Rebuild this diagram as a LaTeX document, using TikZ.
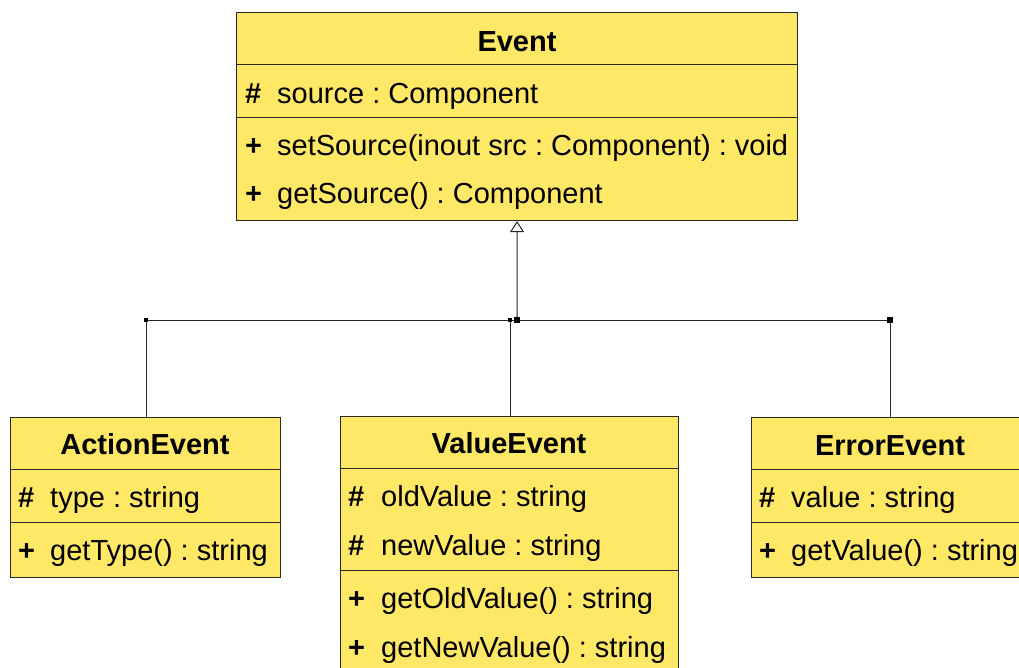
\documentclass[tikz,border=0pt]{standalone}
\usepackage{fontspec}
\setmainfont{Liberation Sans}
\usetikzlibrary{arrows.meta}
\definecolor{classfill}{RGB}{255,232,102}
\definecolor{classline}{RGB}{40,40,40}
\tikzset{
  classbox/.style={draw=classline, fill=classfill, line width=1.1pt, inner sep=0pt, anchor=north west},
  divider/.style={draw=classline, line width=1pt},
  title/.style={font=\fontsize{29}{33}\selectfont\bfseries, inner sep=0pt, anchor=base},
  member/.style={font=\fontsize{29}{33}\selectfont, inner sep=0pt, anchor=base west},
  vis/.style={font=\fontsize{29}{33}\selectfont\bfseries, inner sep=0pt, anchor=base west},
  link/.style={draw=black!85, line width=1pt},
  joint/.style={fill=black, inner sep=0pt, minimum size=#1, draw=none},
  joint/.default=5pt
}
\frenchspacing
\begin{document}
\begin{tikzpicture}[x=1pt,y=-1pt]
\useasboundingbox (0,0) rectangle (1019,668);
\clip (0,0) rectangle (1019,668);

% Event
\node[classbox, minimum width=561pt, minimum height=208pt] (event) at (236,12) {};
\draw[divider] (236,65) -- (797,65);
\draw[divider] (236,117.5) -- (797,117.5);
\node[title] (eventT) at (517,52) {Event};
\node[vis] (ev1) at (245,104) {\#};
\node[member] (ev1t) at (277,104) {source : Component};
\node[vis] (ev2) at (245,156) {+};
\node[member] (ev2t) at (277,156) {setSource(inout src : Component) : void};
\node[vis] (ev3) at (245,204) {+};
\node[member] (ev3t) at (277,204) {getSource() : Component};

% ActionEvent
\node[classbox, minimum width=270pt, minimum height=160.5pt] (action) at (10,416.5) {};
\draw[divider] (10,469.5) -- (280,469.5);
\draw[divider] (10,522) -- (280,522);
\node[title] (actionT) at (145,454) {ActionEvent};
\node[vis] (ac1) at (18,507) {\#};
\node[member] (ac1t) at (50,507) {type : string};
\node[vis] (ac2) at (18,560) {+};
\node[member] (ac2t) at (50,560) {getType() : string};

% ValueEvent
\node[classbox, minimum width=338pt, minimum height=270pt] (value) at (340,415.5) {};
\draw[divider] (340,468) -- (678,468);
\draw[divider] (340,570.5) -- (678,570.5);
\node[title] (valueT) at (509,453) {ValueEvent};
\node[vis] (va1) at (348,506) {\#};
\node[member] (va1t) at (381,506) {oldValue : string};
\node[vis] (va2) at (348,555) {\#};
\node[member] (va2t) at (381,555) {newValue : string};
\node[vis] (va3) at (348,608) {+};
\node[member] (va3t) at (381,608) {getOldValue() : string};
\node[vis] (va4) at (348,657) {+};
\node[member] (va4t) at (381,657) {getNewValue() : string};

% ErrorEvent
\node[classbox, minimum width=300pt, minimum height=160.5pt] (error) at (751,416.5) {};
\draw[divider] (751,469.5) -- (1060,469.5);
\draw[divider] (751,522) -- (1060,522);
\node[title] (errorT) at (890,455) {ErrorEvent};
\node[vis] (er1) at (759,507) {\#};
\node[member] (er1t) at (791,507) {value : string};
\node[vis] (er2) at (759,560) {+};
\node[member] (er2t) at (791,560) {getValue() : string};

% generalization tree
\coordinate (hub) at (517,320);
\coordinate (jA) at (146,320);
\coordinate (jV) at (510,320);
\coordinate (jE) at (890,320);
\draw[link] (jA) -- (jE);
\draw[link, -{Triangle[open, width=14pt, length=11pt, line width=1pt]}] (hub) -- (event.south);
\draw[link] (jA) -- (jA |- action.north);
\draw[link] (jV) -- (jV |- value.north);
\draw[link] (jE) -- (jE |- error.north);
\node[joint=6pt] (dH) at (hub) {};
\node[joint=4pt] (dA) at (jA) {};
\node[joint=4pt] (dV) at (jV) {};
\node[joint=6pt] (dE) at (jE) {};
\end{tikzpicture}
\end{document}
